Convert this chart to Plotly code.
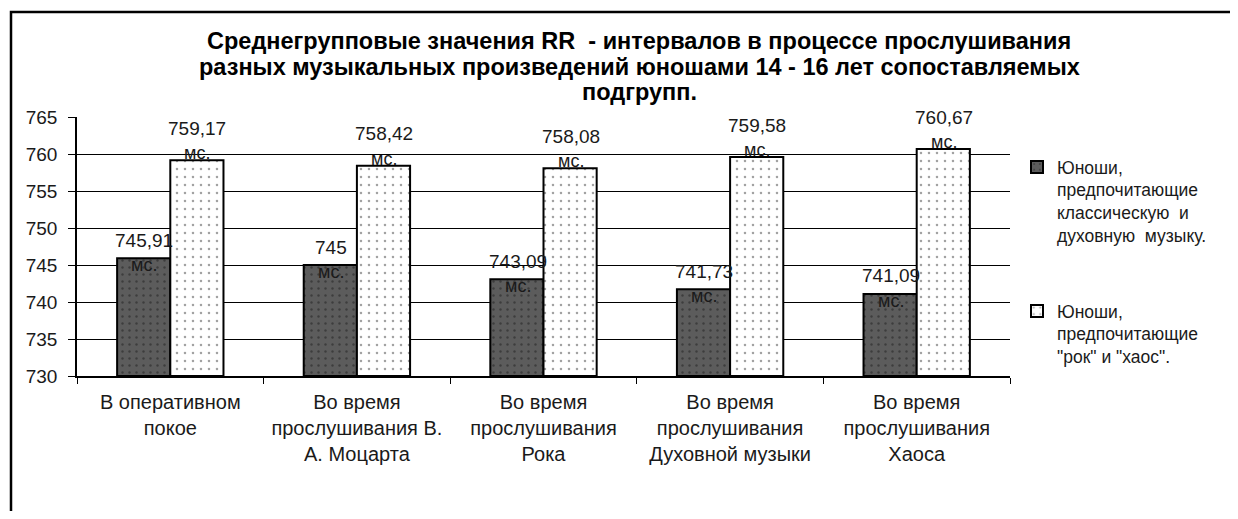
import plotly.graph_objects as go

categories = [
    "В оперативном<br>покое",
    "Во время<br>прослушивания В.<br>А. Моцарта",
    "Во время<br>прослушивания<br>Рока",
    "Во время<br>прослушивания<br>Духовной музыки",
    "Во время<br>прослушивания<br>Хаоса",
]
classic_values = [745.91, 745.00, 743.09, 741.73, 741.09]
classic_labels = ["745,91", "745", "743,09", "741,73", "741,09"]
rock_values = [759.17, 758.42, 758.08, 759.58, 760.67]
rock_labels = ["759,17", "758,42", "758,08", "759,58", "760,67"]
series_names = [
    "Юноши,<br>предпочитающие<br>классическую  и<br>духовную  музыку.",
    "Юноши,<br>предпочитающие<br>\"рок\" и \"хаос\".",
]
title_lines = [
    "Среднегрупповые значения RR  - интервалов в процессе прослушивания",
    "разных музыкальных произведений юношами 14 - 16 лет сопоставляемых",
    "подгрупп.",
]
unit_label = "мс."
y_ticks = [730, 735, 740, 745, 750, 755, 760, 765]

# layout geometry (figure pixels; page has an 8px body margin)
W, H = 1230, 503
L, R, T, B = 69, 228, 109, 135
PW, PH = W - L - R, H - T - B


def px_x(px):
    return (px - L) / PW


def px_y(py):
    return 1 + (T - py) / PH


fig = go.Figure()
fig.add_trace(go.Bar(
    x=categories, y=[v - 730 for v in classic_values], base=730, name=series_names[0],
    legendgroup="a",
    marker=dict(color="#5c5c5c", line=dict(color="black", width=2),
                pattern=dict(shape=".", fgcolor="#1e1e1e", bgcolor="#5c5c5c", size=7, solidity=0.1)),
    hoverinfo="skip",
))
fig.add_trace(go.Bar(
    x=categories, y=[v - 730 for v in rock_values], base=730, name=series_names[1],
    legendgroup="b",
    marker=dict(color="white", line=dict(color="black", width=2),
                pattern=dict(shape=".", fgcolor="#444444", bgcolor="white", size=8, solidity=0.08)),
    hoverinfo="skip",
))

lab_font = dict(size=19, color="#1a1a1a", family="Liberation Sans")
unit_font = dict(size=18, color="#1a1a1a", family="Liberation Sans")
annotations = []
for i, (v, lab) in enumerate(zip(classic_values, classic_labels)):
    annotations.append(dict(x=i, y=v, xref="x", yref="y", xshift=-26, yshift=18,
                            text=lab, showarrow=False, yanchor="middle", font=lab_font))
    annotations.append(dict(x=i, y=v, xref="x", yref="y", xshift=-26, yshift=-7,
                            text=unit_label, showarrow=False, yanchor="middle", font=unit_font))
for i, (v, lab) in enumerate(zip(rock_values, rock_labels)):
    annotations.append(dict(x=i, y=v, xref="x", yref="y", xshift=27, yshift=32,
                            text=lab, showarrow=False, yanchor="middle", font=lab_font))
    annotations.append(dict(x=i, y=v, xref="x", yref="y", xshift=27, yshift=7,
                            text=unit_label, showarrow=False, yanchor="middle", font=unit_font))

title_y = [33, 59, 84]
for line, ty in zip(title_lines, title_y):
    annotations.append(dict(x=px_x(631), y=px_y(ty), xref="paper", yref="paper",
                            text="<b>" + line + "</b>", showarrow=False,
                            xanchor="center", yanchor="middle",
                            font=dict(size=23.5, color="black", family="Liberation Sans")))

fig.update_layout(
    width=W, height=H,
    margin=dict(l=L, r=R, t=T, b=B),
    paper_bgcolor="white", plot_bgcolor="white",
    barmode="group", bargap=0.43, bargroupgap=0,
    font=dict(family="Liberation Sans", color="black"),
    showlegend=True,
    legend=dict(x=px_x(1009), y=px_y(141), xanchor="left", yanchor="top", valign="top",
                tracegroupgap=50, traceorder="grouped",
                font=dict(size=17.5, color="#1a1a1a", family="Liberation Sans"),
                itemwidth=30, bgcolor="rgba(0,0,0,0)"),
    annotations=annotations,
    shapes=[dict(type="rect", xref="paper", yref="paper",
                 x0=px_x(3), x1=px_x(1400), y0=px_y(700), y1=px_y(4),
                 line=dict(color="black", width=2.5), fillcolor="rgba(0,0,0,0)", layer="below")],
)
fig.update_xaxes(
    showline=True, linecolor="black", linewidth=1.5, ticks="outside", tickson="boundaries",
    ticklen=6, tickcolor="black", showgrid=False, ticklabelstandoff=7,
    tickfont=dict(size=20, color="#1a1a1a", family="Liberation Sans"),
)
fig.update_yaxes(
    range=[730, 765], tickvals=y_ticks, showline=True, linecolor="black", linewidth=1.5,
    ticks="outside", ticklen=7, tickcolor="black", showgrid=True, gridcolor="black", gridwidth=1,
    ticklabelstandoff=7,
    tickfont=dict(size=19, color="#1a1a1a", family="Liberation Sans"), zeroline=False,
)
fig.write_html("out.html")
